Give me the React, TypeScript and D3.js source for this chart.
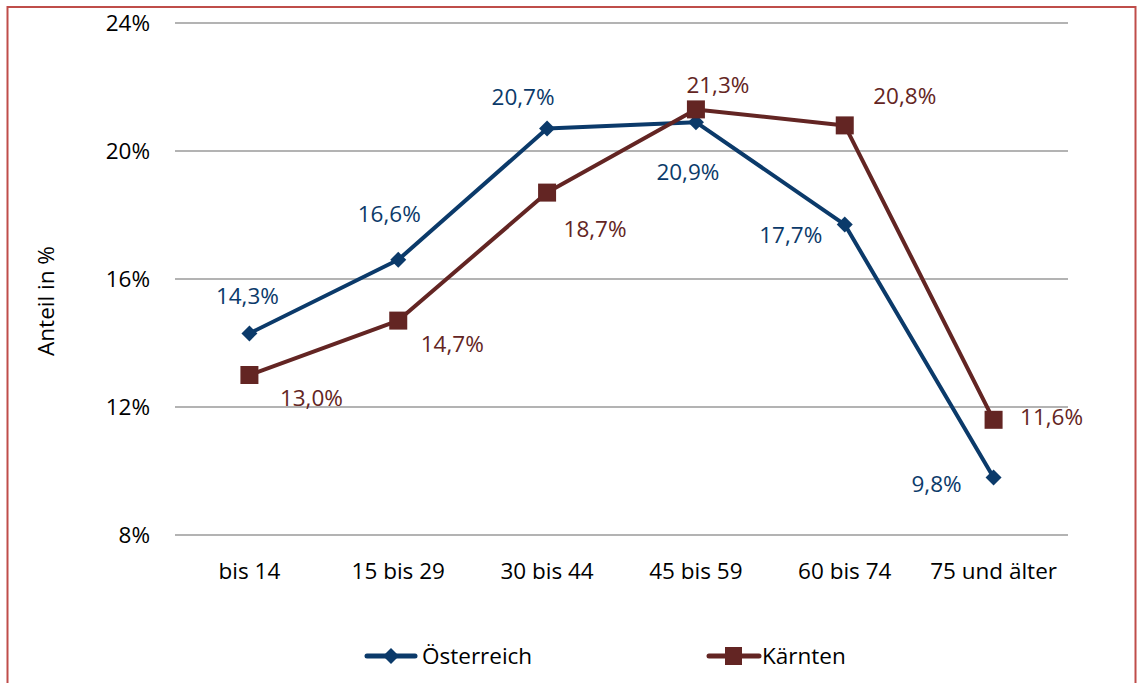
import React from 'react';
import * as d3 from 'd3';

const categories = ['bis 14', '15 bis 29', '30 bis 44', '45 bis 59', '60 bis 74', '75 und älter'];
const oesterreich = [14.3, 16.6, 20.7, 20.9, 17.7, 9.8];
const kaernten = [13.0, 14.7, 18.7, 21.3, 20.8, 11.6];
const yTicks = [8, 12, 16, 20, 24];

// label offsets relative to the point (dx, dy to text center)
const oeOffsets = [[-2, -38], [-9, -46], [-24, -32], [-8, 50], [-54, 10], [-57, 6]];
const kaOffsets = [[62, 23], [54, 23], [48, 36], [22, -25], [60, -30], [58, -3]];

const W = 1137;
const H = 683;
const blue = '#0b3a6a';
const red = '#632523';
const font = '"Open Sans", sans-serif';
const fs = 22.5;

const fmt = (v: number) => v.toFixed(1).replace('.', ',') + '%';

export default function App() {
  const x = d3.scaleBand().domain(categories).range([175, 1068]);
  const y = d3.scaleLinear().domain([8, 24]).range([535, 23]);
  const cx = (c: string) => (x(c) as number) + x.bandwidth() / 2;

  const line = d3.line<number>()
    .x((d, i) => cx(categories[i]))
    .y((d) => y(d));

  const diamond = (px: number, py: number, r: number) =>
    `M${px},${py - r}L${px + r},${py}L${px},${py + r}L${px - r},${py}Z`;

  return (
    <svg width={W} height={H} style={{position: 'absolute', left: 0, top: 0}}>
      <rect x={0} y={0} width={W} height={H} fill="#fff" />
      <rect x={7.5} y={7} width={1128} height={700} fill="none" stroke="#bf4d4a" strokeWidth={2} />
      {yTicks.map((t) => (
        <g key={t}>
          <line x1={175} x2={1068} y1={y(t)} y2={y(t)} stroke="#b3b3b3" strokeWidth={2} />
          <text x={150} y={y(t)} dy="0.36em" textAnchor="end" fontSize={fs} fontFamily={font} fill="#000">{t}%</text>
        </g>
      ))}
      {categories.map((c) => (
        <text key={c} x={cx(c)} y={571} dy="0.36em" textAnchor="middle" fontSize={fs} fontFamily={font} fill="#000">{c}</text>
      ))}
      <text transform="translate(46,301) rotate(-90)" dy="0.36em" textAnchor="middle" fontSize={fs} fontFamily={font} fill="#000">Anteil in %</text>

      <path d={line(oesterreich) || ''} fill="none" stroke={blue} strokeWidth={4} strokeLinejoin="round" />
      <path d={line(kaernten) || ''} fill="none" stroke={red} strokeWidth={4} strokeLinejoin="round" />
      {oesterreich.map((v, i) => (
        <path key={'od' + i} d={diamond(cx(categories[i]), y(v), 8)} fill={blue} />
      ))}
      {kaernten.map((v, i) => (
        <rect key={'kr' + i} x={cx(categories[i]) - 9} y={y(v) - 9} width={18} height={18} fill={red} />
      ))}
      {oesterreich.map((v, i) => (
        <text key={'ol' + i} x={cx(categories[i]) + oeOffsets[i][0]} y={y(v) + oeOffsets[i][1]} dy="0.36em" textAnchor="middle" fontSize={fs} fontFamily={font} fill={blue}>{fmt(v)}</text>
      ))}
      {kaernten.map((v, i) => (
        <text key={'kl' + i} x={cx(categories[i]) + kaOffsets[i][0]} y={y(v) + kaOffsets[i][1]} dy="0.36em" textAnchor="middle" fontSize={fs} fontFamily={font} fill={red}>{fmt(v)}</text>
      ))}

      <g>
        <line x1={367} x2={415} y1={656} y2={656} stroke={blue} strokeWidth={5} strokeLinecap="round" />
        <path d={diamond(391, 656, 8)} fill={blue} />
        <text x={422} y={656} dy="0.36em" fontSize={fs} fontFamily={font} fill="#000">Österreich</text>
        <line x1={709} x2={759} y1={656} y2={656} stroke={red} strokeWidth={5} strokeLinecap="round" />
        <rect x={725} y={647} width={17} height={18} fill={red} />
        <text x={762} y={656} dy="0.36em" fontSize={fs} fontFamily={font} fill="#000">Kärnten</text>
      </g>
    </svg>
  );
}
